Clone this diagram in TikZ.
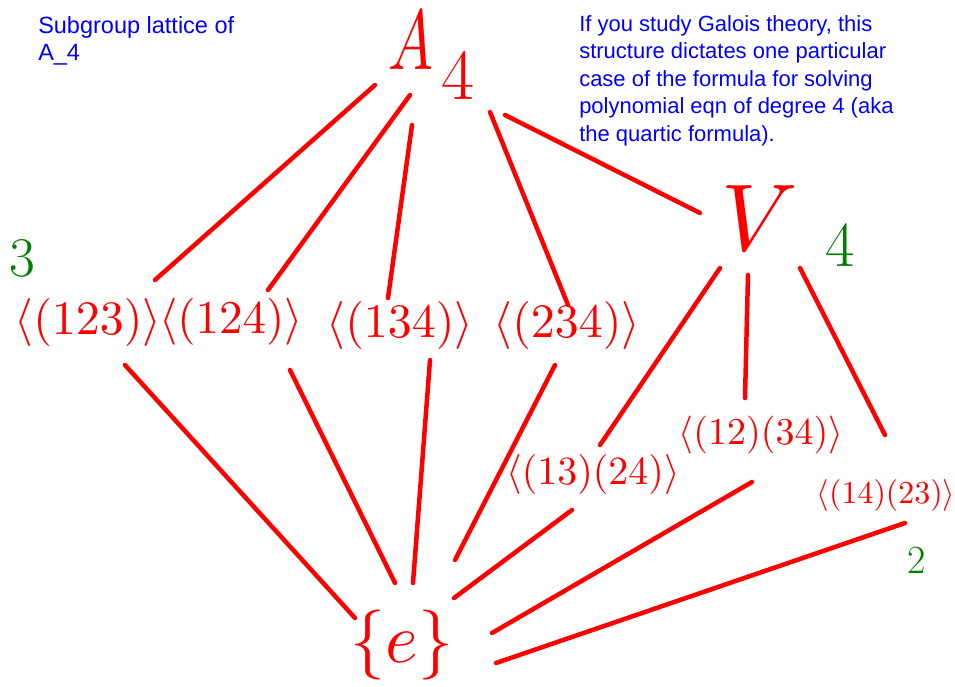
\documentclass[tikz,border=0pt]{standalone}
\usepackage{fontspec}
\newfontfamily\notefont{Liberation Sans}
\definecolor{penred}{RGB}{255,0,0}
\definecolor{pengreen}{RGB}{0,128,0}
\definecolor{noteblue}{RGB}{0,0,255}
\newcommand{\sz}[1]{\fontsize{#1}{#1}\selectfont}

\begin{document}
\begin{tikzpicture}[x=1pt,y=-1pt,line width=4.5pt,line cap=round,
    every node/.style={inner sep=0pt},
    grp/.style={text=penred,font=\fontsize{10}{10}\selectfont},
    ord/.style={text=pengreen,font=\sz{#1}},
    note/.style={text=noteblue,font=\notefont\fontsize{#1}{27.5}\selectfont,
      align=left,anchor=north west},
    link/.style={draw=penred}]
  \useasboundingbox (0,0) rectangle (955,687);

  % notes
  \node[note=23.5] (title) at (36,14) {Subgroup lattice of\\A\_4};
  \node[note=22] (galois) at (577,13) {If you study Galois theory, this\\
    structure dictates one particular\\case of the formula for solving\\
    polynomial eqn of degree 4 (aka\\the quartic formula).};

  % subgroups (math is scaled up from 10pt)
  \node[grp] (A4) at (432,55)
    {\scalebox{6}[8.5]{$A$}\kern8pt\raisebox{-30pt}{\sz{72}4}};
  \node[grp] (c123) at (88,322) {\scalebox{4.8}{$\langle(123)\rangle$}};
  \node[grp] (c124) at (231,322) {\scalebox{4.7}{$\langle(124)\rangle$}};
  \node[grp] (c134) at (400,325) {\scalebox{4.8}{$\langle(134)\rangle$}};
  \node[grp] (c234) at (567,325) {\scalebox{4.8}{$\langle(234)\rangle$}};
  \node[grp] (V) at (760,218) {\scalebox{9.5}{$V$}};
  \node[grp] (d1324) at (593,474) {\scalebox{4}{$\langle(13)(24)\rangle$}};
  \node[grp] (d1234) at (761,435) {\scalebox{3.8}{$\langle(12)(34)\rangle$}};
  \node[grp] (d1423) at (886,495) {\scalebox{3.2}{$\langle(14)(23)\rangle$}};
  \node[grp] (e) at (402,645) {\scalebox{7}{$\{e\}$}};

  % orders
  \node[ord=56] (o3) at (22,258) {3};
  \node[ord=64] (o4) at (840,245) {4};
  \node[ord=40] (o2) at (917,560) {2};

  % A4 down
  \draw[link] ([shift={(-57,30)}]A4.center) -- ([shift={(67,-42)}]c123.center);
  \draw[link] ([shift={(-22,40)}]A4.center) -- ([shift={(37,-32)}]c124.center);
  \draw[link] ([shift={(-20,70)}]A4.center) -- ([shift={(-12,-27)}]c134.center);
  \draw[link] ([shift={(58,57)}]A4.center) -- ([shift={(1,-20)}]c234.center);
  \draw[link] ([shift={(73,60)}]A4.center) -- ([shift={(-60,-5)}]V.center);

  % V down
  \draw[link] ([shift={(-40,50)}]V.center) -- ([shift={(7,-29)}]d1324.center);
  \draw[link] ([shift={(-12,57)}]V.center) -- ([shift={(-16,-37)}]d1234.center);
  \draw[link] ([shift={(40,50)}]V.center) -- ([shift={(-1,-60)}]d1423.center);

  % down to e
  \draw[link] ([shift={(37,43)}]c123.center) -- ([shift={(-47,-27)}]e.center);
  \draw[link] ([shift={(59,48)}]c124.center) -- ([shift={(-7,-62)}]e.center);
  \draw[link] ([shift={(30,35)}]c134.center) -- ([shift={(11,-62)}]e.center);
  \draw[link] ([shift={(-12,40)}]c234.center) -- ([shift={(53,-85)}]e.center);
  \draw[link] ([shift={(-21,36)}]d1324.center) -- ([shift={(52,-47)}]e.center);
  \draw[link] ([shift={(-9,47)}]d1234.center) -- ([shift={(90,-12)}]e.center);
  \draw[link] ([shift={(19,28)}]d1423.center) -- ([shift={(94,18)}]e.center);
\end{tikzpicture}
\end{document}
